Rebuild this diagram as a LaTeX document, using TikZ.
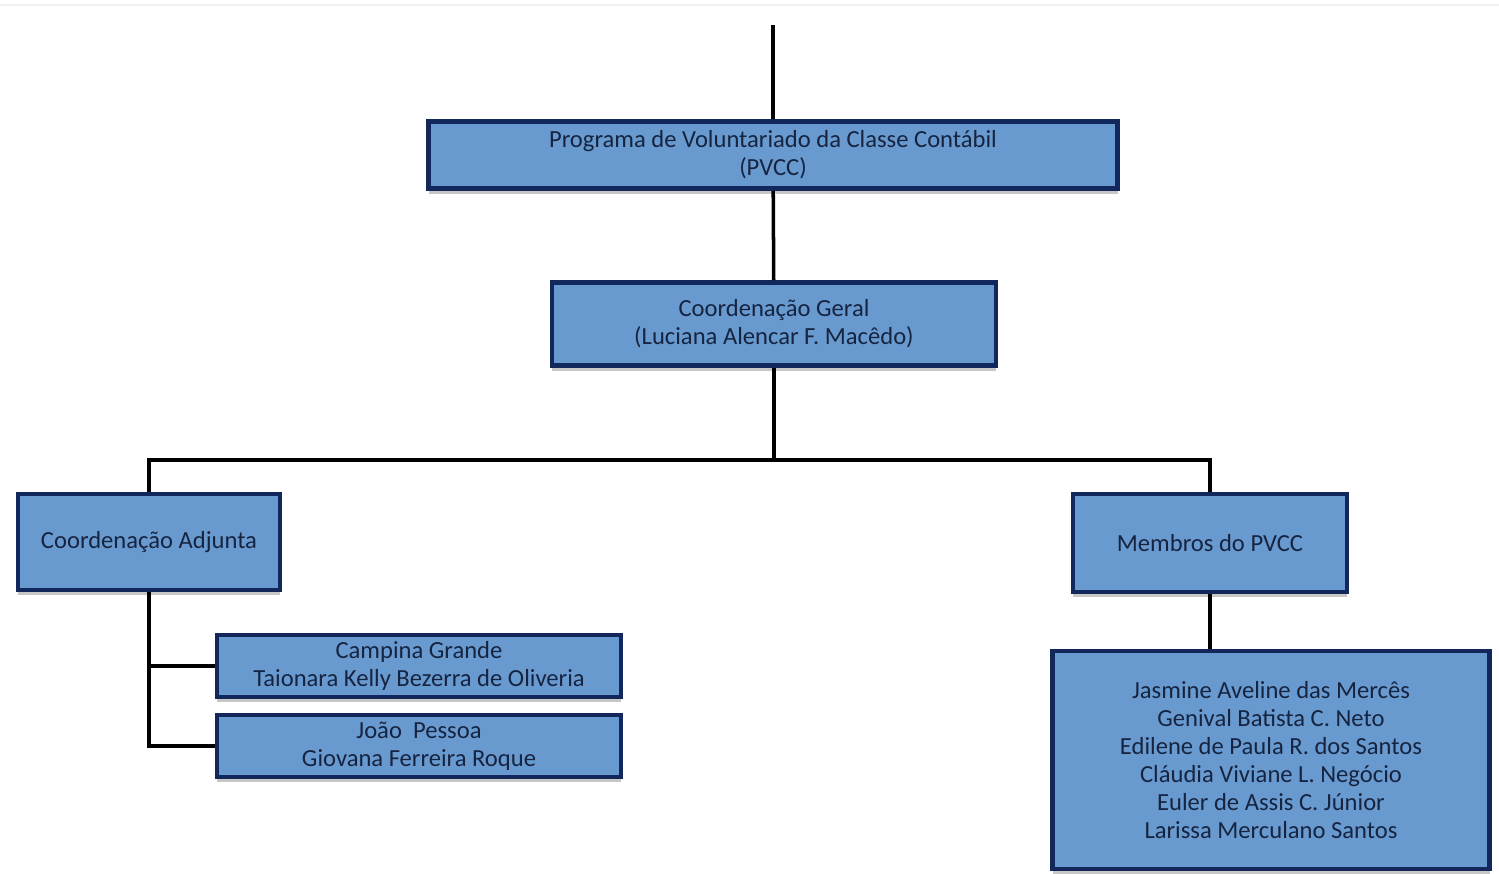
\documentclass[tikz,border=0pt]{standalone}
\usepackage{fontspec}
\setmainfont{Carlito}
\usetikzlibrary{shadows}
\definecolor{CaixaAzul}{RGB}{104,154,208}
\definecolor{BordaAzul}{RGB}{18,40,92}
\definecolor{TextoAzul}{RGB}{22,36,64}
\def\px{0.02cm}

\begin{document}
\begin{tikzpicture}[x=\px, y=-\px,
    font=\fontsize{14}{15.9}\selectfont,
    caixa/.style={draw=BordaAzul, line width=2.7pt, fill=CaixaAzul, text=TextoAzul,
        align=center, inner sep=0pt,
        drop shadow={shadow xshift=0pt, shadow yshift=-3pt, opacity=0.22, fill=black}},
    liga/.style={line width=2pt, black}]

\useasboundingbox (0,0) rectangle (1499,874);
\draw[gray!12, line width=0.6pt] (0,5) -- (1499,5);

% caixas
\node[caixa, minimum width=689*\px, minimum height=67*\px] (pvcc) at (773,155)
    {Programa de Voluntariado da Classe Contábil\\(PVCC)};
\node[caixa, minimum width=444*\px, minimum height=83*\px] (geral) at (774,324)
    {Coordenação Geral\\(Luciana Alencar F. Macêdo)};
\node[caixa, minimum width=262*\px, minimum height=96*\px] (adjunta) at (149,542)
    {Coordenação Adjunta};
\node[caixa, minimum width=274*\px, minimum height=98*\px] (membros) at (1210,543)
    {Membros do PVCC};
\node[caixa, minimum width=404*\px, minimum height=62*\px] (campina) at (419,666)
    {Campina Grande\\Taionara Kelly Bezerra de Oliveria};
\node[caixa, minimum width=404*\px, minimum height=62*\px] (joao) at (419,746)
    {João\ \ Pessoa\\Giovana Ferreira Roque};
\node[caixa, minimum width=437*\px, minimum height=218*\px] (lista) at (1271,760)
    {Jasmine Aveline das Mercês\\Genival Batista C. Neto\\Edilene de Paula R. dos Santos\\
     Cláudia Viviane L. Negócio\\Euler de Assis C. Júnior\\Larissa Merculano Santos};

% ligacoes
\coordinate (topo) at (773,25);
\coordinate (barra) at (774,460);
\draw[liga] (topo) -- (pvcc);
\draw[liga] (pvcc) -- (geral);
\draw[liga] (geral) -- (barra);
\draw[liga] (adjunta.north) -- (adjunta.north |- barra) -| (membros.north);
\draw[liga] (adjunta.south) |- (joao.west);
\draw[liga] (adjunta.south |- campina.west) -- (campina.west);
\draw[liga] (membros.south) -- (membros.south |- lista.north);

\end{tikzpicture}
\end{document}
